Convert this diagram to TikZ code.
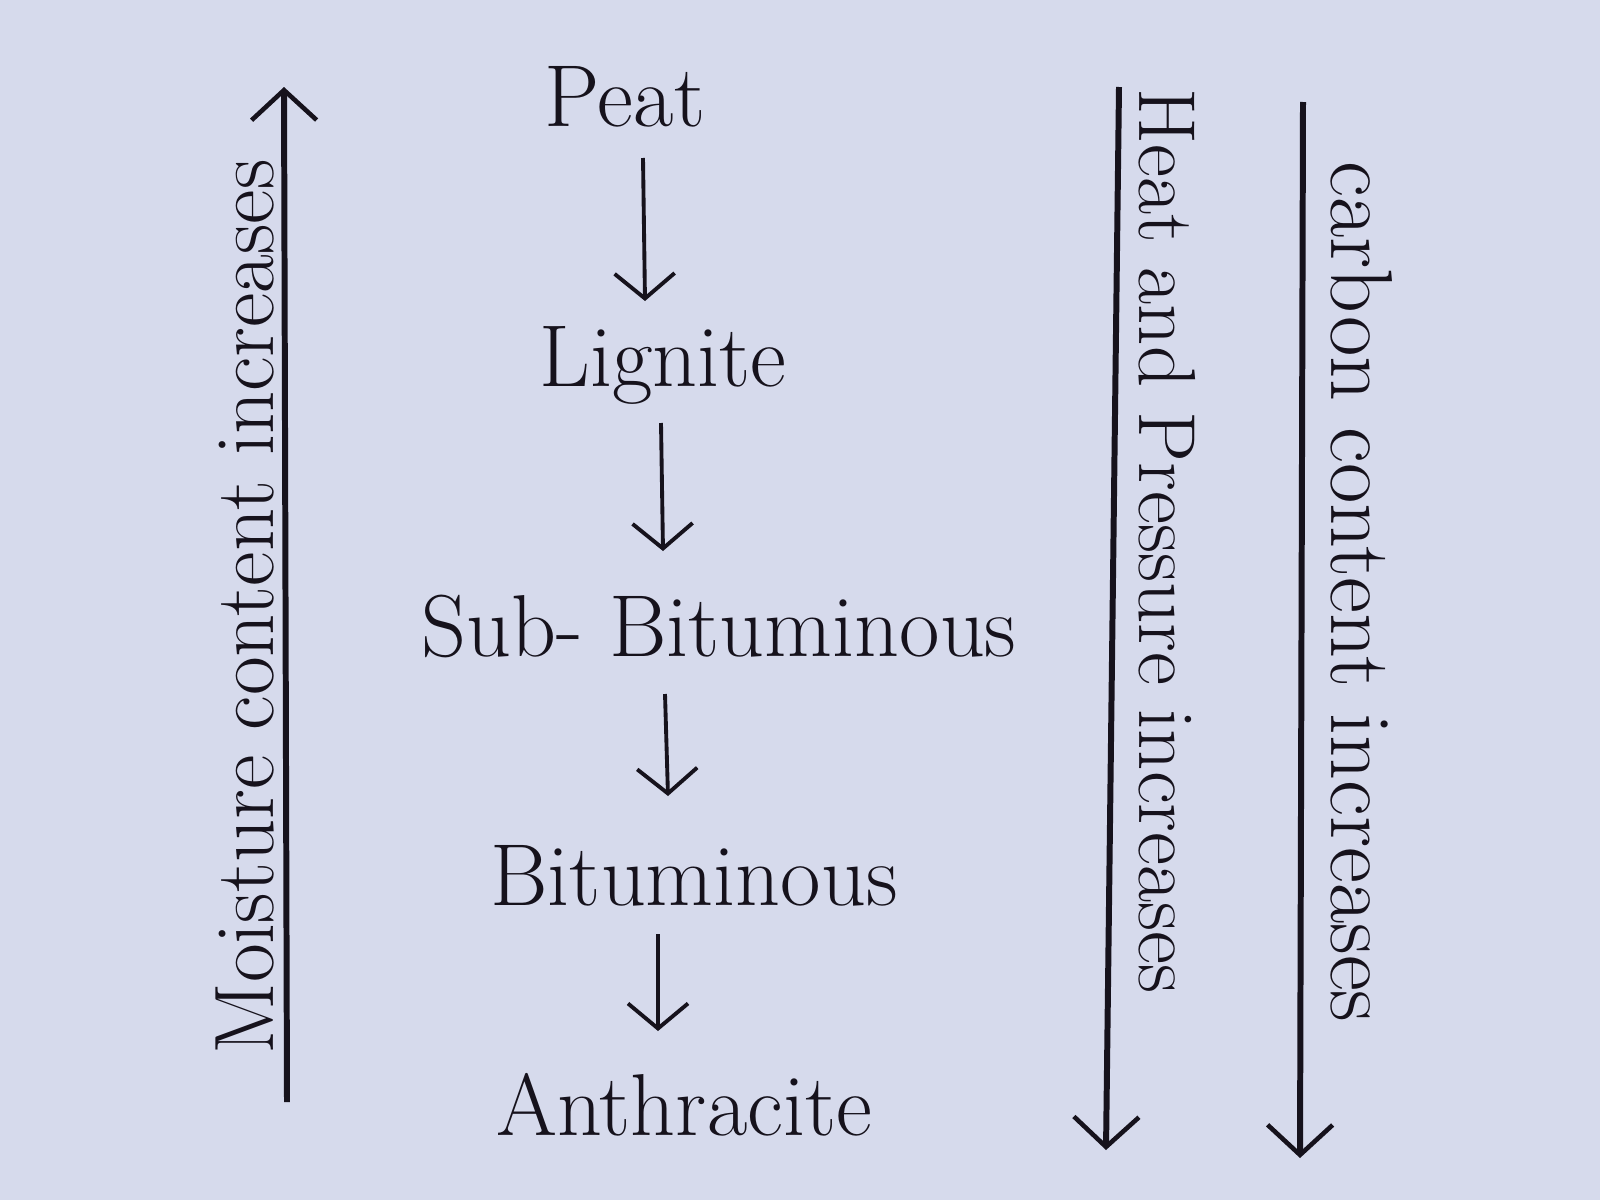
\documentclass[tikz,border=0pt]{standalone}
\usetikzlibrary{arrows.meta}
\definecolor{paper}{RGB}{214,218,236}
\definecolor{ink}{RGB}{22,18,28}
\begin{document}
\begin{tikzpicture}[x=0.01cm,y=-0.01cm,
  rank/.style={text=ink,inner sep=2pt,font=\fontsize{25}{29}\selectfont},
  side/.style={text=ink,inner sep=2pt},
  flow/.style={draw=ink,line width=1.1pt,-{Straight Barb[length=0.25cm,width=0.6cm,line width=1.1pt]}},
  axis/.style={draw=ink,line width=1.7pt,-{Straight Barb[length=0.3cm,width=0.65cm,line width=1.3pt]}}]
\fill[paper] (0,0) rectangle (1600,1200);
\useasboundingbox (0,0) rectangle (1600,1200);
% rank nodes
\node[rank] (peat) at (625,97) {Peat};
\node[rank] (lig) at (663,365) {Lignite};
\node[rank] (sub) at (719,626) {Sub- Bituminous};
\node[rank] (bit) at (694,876) {Bituminous};
\node[rank] (anth) at (684,1105) {Anthracite};
% flow arrows
\draw[flow] (643,158) -- (645,301);
\draw[flow] (661,423) -- (663,551);
\draw[flow] (665,694) -- (668,796);
\draw[flow] (658,934) -- (658,1031);
% side axes
\coordinate (mb) at (287,1102);
\coordinate (mt) at (284,87);
\draw[axis] (mb) -- (mt);
\node[side,rotate=90,font=\fontsize{24}{28}\selectfont] (moist) at (245,607) {Moisture content increases};
\coordinate (ht) at (1119,87);
\coordinate (hb) at (1106,1150);
\draw[axis] (ht) -- (hb);
\node[side,rotate=-90,font=\fontsize{23}{27}\selectfont] (heat) at (1167,541) {Heat and Pressure increases};
\coordinate (ct) at (1303,102);
\coordinate (cb) at (1300,1158);
\draw[axis] (ct) -- (cb);
\node[side,rotate=-90,font=\fontsize{25}{29}\selectfont] (carb) at (1362,592) {carbon content increases};
\end{tikzpicture}
\end{document}
